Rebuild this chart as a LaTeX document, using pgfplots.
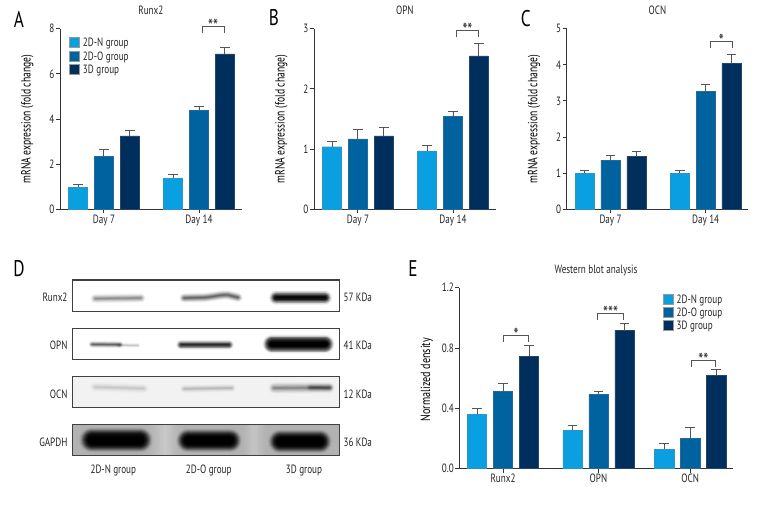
\documentclass[border=0pt]{standalone}
\usepackage{fontspec}
\setmainfont[FakeStretch=0.76]{PT Sans}
\usepackage{pgfplots}
\pgfplotsset{compat=1.18}
\definecolor{cN}{HTML}{0A9FE0}
\definecolor{cO}{HTML}{00629F}
\definecolor{cD}{HTML}{002E5D}
\definecolor{axc}{HTML}{333333}
\definecolor{errc}{HTML}{555555}
\newcommand{\tf}{\fontsize{9}{10}\selectfont}
\pgfplotsset{
  panel/.style={
    scale only axis, ybar, bar width=14.4pt, bar shift=0pt,
    axis lines=left, axis line style={-,axc,line width=0.7pt},
    tick style={axc,line width=0.7pt}, major tick length=3pt,
    tick align=outside, xtick pos=bottom, ytick pos=left,
    clip=false, ymin=0,
    /pgf/number format/assume math mode=true,
    tick label style={font=\tf, inner sep=1pt, text=black!85},
    title style={font=\tf, at={(0.5,1)}, anchor=base, yshift=4.5pt, inner sep=0pt, text=black!85},
    ylabel style={font=\tf, text=black!85},
    every axis y label/.style={at={(axis description cs:0,0.5)}, xshift=-24.5pt, rotate=90, anchor=center},
    legend image code/.code={\draw[##1,draw=black!40,line width=0.3pt] (0pt,-3.25pt) rectangle (7.5pt,4.25pt); \path (10pt,0pt);},
    legend cell align=left,
    legend style={draw=none, fill=none, inner sep=0pt, outer sep=0pt, anchor=north west,
      row sep=0.5pt, font=\tf, text=black!85,
      nodes={inner sep=0pt, text height=7.5pt, text depth=2pt}},
    error bars/y dir=plus, error bars/y explicit,
    error bars/error bar style={errc,line width=0.7pt},
    error bars/error mark options={rotate=90,errc,mark size=3.6pt,line width=0.7pt},
  },
  small panel/.style={panel, width=136.3pt, height=135.5pt, xmin=-0.695, xmax=6.32,
     xtick={1,4.67}, xticklabels={Day 7, Day 14},
     every axis y label/.append style={xscale=0.95}},
  sN/.style={fill=cN,draw=cN!70!gray,line width=0.3pt},
  sO/.style={fill=cO,draw=cO!70!gray,line width=0.3pt},
  sD/.style={fill=cD,draw=cD!70!gray,line width=0.3pt},
}
\tikzset{brk/.style={errc,line width=0.7pt}}
\newcommand{\brk}[5]{%
  \draw[brk] (axis cs:#1,#4) -- (axis cs:#1,#3) -- (axis cs:#2,#3) -- (axis cs:#2,#4);
  \node[anchor=base,inner sep=0pt,yshift=-4.4pt,font=\fontsize{14}{14}\selectfont,text=black!85] at (axis cs:{(#1+#2)/2},#3) {#5};}
% soft band: concentric strokes; outer strokes are faint, inner ones strong
\newcommand{\bandp}[4][black]{% path, thickness px, core alpha
  \foreach \k in {1,...,12}{
    \pgfmathsetlengthmacro{\lw}{0.75pt*#3*\k/12}
    \pgfmathsetmacro{\al}{#4*(1.03-\k/12)}
    \draw[#1,opacity=\al,line width=\lw,line cap=round,line join=round] #2;
  }}
\newcommand{\lab}[3]{\node[font=\tf,text=black!85,inner sep=0pt,#1] at #2 {#3};}
\begin{document}
\begin{tikzpicture}
\path[use as bounding box,fill=white] (0,0) rectangle (576pt,-378pt);

% ---------- panel A
\begin{axis}[small panel, at={(45pt,-157pt)}, anchor=south west, ymax=8, ytick={0,2,4,6,8},
  title={Runx2}, ylabel={mRNA expression (fold change)},
  legend style={at={(0.051,0.954)}}]
\addplot[sN] coordinates {(0,0.97) +- (0,0.13) (3.67,1.37) +- (0,0.16)};
\addplot[sO] coordinates {(1,2.35) +- (0,0.31) (4.67,4.38) +- (0,0.18)};
\addplot[sD] coordinates {(2,3.25) +- (0,0.26) (5.67,6.88) +- (0,0.29)};
\legend{2D-N group,2D-O group,3D group}
\brk{4.79}{5.65}{8.09}{7.79}{**}
\end{axis}

% ---------- panel B
\begin{axis}[small panel, at={(235.5pt,-157pt)}, anchor=south west, ymax=3, ytick={0,1,2,3},
  title={OPN}, ylabel={mRNA expression (fold change)}]
\addplot[sN] coordinates {(0,1.04) +- (0,0.08) (3.67,0.97) +- (0,0.09)};
\addplot[sO] coordinates {(1,1.17) +- (0,0.16) (4.67,1.54) +- (0,0.09)};
\addplot[sD] coordinates {(2,1.22) +- (0,0.14) (5.67,2.55) +- (0,0.21)};
\brk{4.80}{5.66}{2.97}{2.856}{**}
\end{axis}

% ---------- panel C
\begin{axis}[small panel, at={(425pt,-157pt)}, anchor=south west, ymax=5, ytick={0,1,2,3,4,5},
  title={OCN}, ylabel={mRNA expression (fold change)}]
\addplot[sN] coordinates {(0,1.00) +- (0,0.08) (3.67,1.00) +- (0,0.08)};
\addplot[sO] coordinates {(1,1.36) +- (0,0.14) (4.67,3.26) +- (0,0.19)};
\addplot[sD] coordinates {(2,1.46) +- (0,0.14) (5.67,4.04) +- (0,0.25)};
\brk{4.85}{5.71}{4.65}{4.456}{*}
\end{axis}

% ---------- panel E
\begin{axis}[panel, at={(344.5pt,-351.5pt)}, anchor=south west, width=205pt, height=135.75pt,
  xmin=-0.68, xmax=9.83, ymax=1.2, ytick={0,0.4,0.8,1.2},
  yticklabel style={/pgf/number format/fixed,/pgf/number format/fixed zerofill,/pgf/number format/precision=1},
  xtick={1,4.67,8.2}, xticklabels={Runx2,OPN,OCN},
  title={Western blot analysis}, ylabel={Normalized density},
  every axis y label/.append style={xshift=-1.2pt},
  legend style={at={(0.745,0.97)}}]
\addplot[sN] coordinates {(0,0.362) +- (0,0.038) (3.67,0.256) +- (0,0.031) (7.2,0.130) +- (0,0.036)};
\addplot[sO] coordinates {(1,0.513) +- (0,0.053) (4.67,0.493) +- (0,0.022) (8.2,0.200) +- (0,0.072)};
\addplot[sD] coordinates {(2,0.747) +- (0,0.073) (5.67,0.915) +- (0,0.049) (9.2,0.619) +- (0,0.040)};
\legend{2D-N group,2D-O group,3D group}
\brk{1.03}{1.97}{0.884}{0.84}{*}
\brk{4.64}{5.63}{1.028}{0.986}{***}
\brk{8.26}{9.15}{0.716}{0.676}{**}
\end{axis}

% ---------- panel D and letters (pixel coordinates)
\begin{scope}[x=0.75pt,y=-0.75pt]
\node[font=\fontsize{17}{17}\selectfont,inner sep=0pt] at (19,19) {A};
\node[font=\fontsize{17}{17}\selectfont,inner sep=0pt] at (274,18) {B};
\node[font=\fontsize{17}{17}\selectfont,inner sep=0pt] at (525.7,19) {C};
\node[font=\fontsize{17}{17}\selectfont,inner sep=0pt] at (19,269) {D};
\node[font=\fontsize{17}{17}\selectfont,inner sep=0pt] at (413,269) {E};

\fill[white] (72.3,280) rectangle (339.3,311.3);
\fill[white] (72.3,328.7) rectangle (339.3,359.3);
\fill[black!5] (72.3,376.7) rectangle (339.3,407.7);
\fill[black!30] (72.3,424.7) rectangle (339.3,455.7);

\begin{scope}
\clip (72.3,280) rectangle (339.3,311.3);
\bandp{(95,298.6) -- (141,298)}{11}{0.09}
\bandp{(184,298) -- (205,297.5) .. controls (215,296.5) and (222,294.5) .. (228,295) -- (238,297.5)}{11}{0.14}
\bandp{(276,297.7) -- (325,297.7)}{15}{0.45}
\end{scope}
\begin{scope}
\clip (72.3,328.7) rectangle (339.3,359.3);
\bandp{(92,344.4) -- (120,344.6)}{8}{0.14}
\bandp{(118,345) -- (138,345.5)}{6}{0.04}
\bandp{(181,344.8) -- (229,344.8)}{11}{0.26}
\bandp{(272,344) -- (325,344)}{20}{0.7}
\end{scope}
\begin{scope}
\clip (72.3,376.7) rectangle (339.3,407.7);
\bandp{(95,387) -- (144,388.5)}{12}{0.028}
\bandp{(184,388.8) -- (232,388)}{10}{0.04}
\bandp{(274,388) -- (329,387.7)}{13}{0.09}
\bandp{(310,387.5) -- (330,387.7)}{9}{0.09}
\end{scope}
\begin{scope}
\clip (72.3,424.7) rectangle (339.3,455.7);
% lighter gaps of the membrane between lanes
\bandp[white]{(165,415) -- (165,465)}{44}{0.07}
\bandp[white]{(254,415) -- (254,465)}{34}{0.06}
% GAPDH bands
\bandp{(92,440) -- (140,440)}{27}{0.8}
\bandp{(188,440.5) -- (230,440.5)}{25}{0.8}
\bandp{(280,441.5) -- (320,441.5)}{25}{0.8}
\end{scope}

\foreach \a/\b in {280/311.3,328.7/359.3,376.7/407.7,424.7/455.7}{
  \draw[black!75,line width=1pt] (72.3,\a) rectangle (339.3,\b);}

\lab{anchor=east}{(67.7,297.7)}{Runx2}
\lab{anchor=east}{(67.7,345.7)}{OPN}
\lab{anchor=east}{(67.7,394)}{OCN}
\lab{anchor=east}{(67.7,442.3)}{GAPDH}
\lab{anchor=west}{(343.3,297.7)}{57 KDa}
\lab{anchor=west}{(343.3,345.7)}{41 KDa}
\lab{anchor=west}{(343.3,394)}{12 KDa}
\lab{anchor=west}{(343.3,442.3)}{36 KDa}
\lab{anchor=center}{(113.3,470.7)}{2D-N group}
\lab{anchor=center}{(208.7,470.7)}{2D-O group}
\lab{anchor=center}{(304,470.7)}{3D group}
\end{scope}
\end{tikzpicture}
\end{document}
